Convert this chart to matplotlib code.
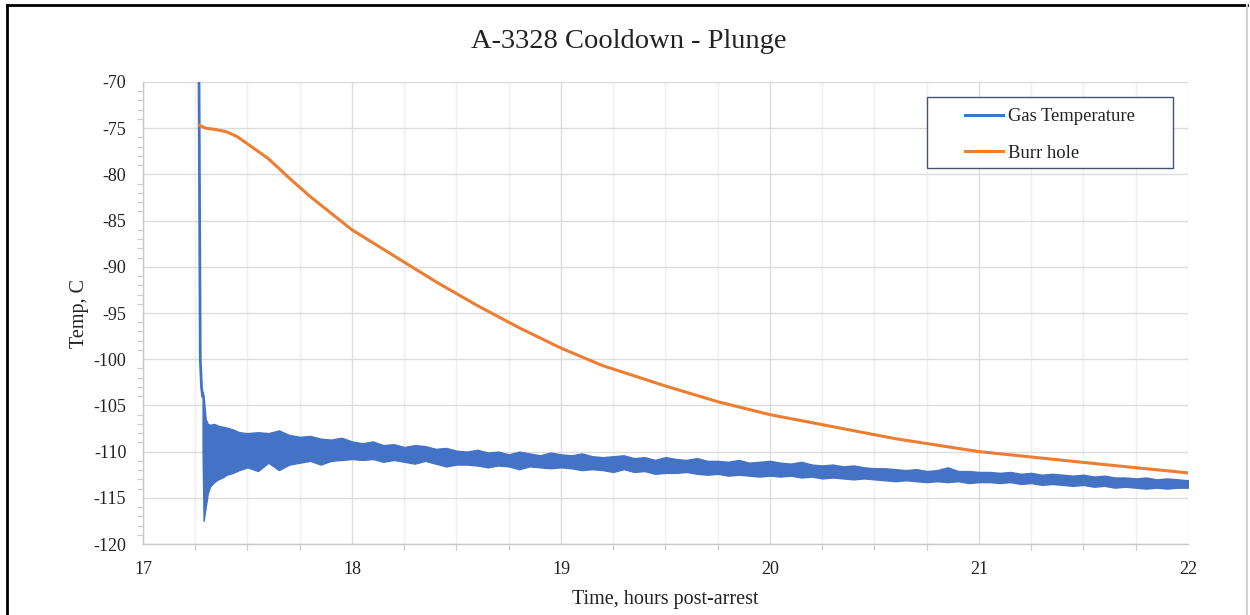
import numpy as np
import matplotlib
matplotlib.use("Agg")
import matplotlib.pyplot as plt
from matplotlib.lines import Line2D
from matplotlib.patches import Rectangle
from matplotlib.ticker import MultipleLocator

plt.rcParams['font.family'] = ['Liberation Serif', 'DejaVu Serif']
plt.rcParams['axes.unicode_minus'] = False

# Burr hole (orange), hours post-arrest vs temp C
burr_t = [17.27, 17.30, 17.35, 17.40, 17.45, 17.50, 17.55, 17.60, 17.70, 17.80,
          17.90, 18.00, 18.20, 18.40, 18.60, 18.80, 19.00, 19.20, 19.50, 19.75,
          20.00, 20.30, 20.60, 20.80, 21.00, 21.30, 21.60, 22.00]
burr_v = [-74.7, -75.0, -75.15, -75.4, -75.9, -76.7, -77.5, -78.3, -80.4, -82.4,
          -84.2, -86.0, -88.8, -91.6, -94.2, -96.6, -98.8, -100.7, -102.9, -104.6,
          -106.0, -107.3, -108.6, -109.3, -110.0, -110.7, -111.4, -112.3]

# gas temperature: plunge spike (single trace)
spike_t = [17.262, 17.268, 17.274, 17.280, 17.285]
spike_v = [-55.0, -70.0, -100.0, -103.0, -104.0]

# gas temperature noise band after the plunge: per-time high / low of the trace
band_t_early = [17.285, 17.29, 17.30, 17.31, 17.32, 17.34, 17.36, 17.38,
                17.40, 17.43, 17.46, 17.50]
band_hi_early = [-103.5, -104.0, -106.5, -107.0, -107.1, -107.0, -107.2, -107.3,
                 -107.4, -107.6, -107.9, -108.0]
band_lo_early = [-110.0, -117.5, -116.0, -114.5, -113.8, -113.3, -113.0, -112.8,
                 -112.5, -112.3, -112.0, -111.7]

# every 0.05 h from 17.55 to 22.00
band_start, band_step = 17.55, 0.05
band_hi = [
    -107.9, -108.0, -107.7, -108.2, -108.4, -108.3, -108.6, -108.7, -108.5, -108.9,
    -109.1, -108.9, -109.3, -109.2, -109.5, -109.3, -109.4, -109.7, -109.6, -109.9,
    -110.0, -109.8, -110.1, -110.0, -110.3, -110.0, -110.2, -110.4, -110.1, -110.3,
    -110.4, -110.2, -110.5, -110.6, -110.5, -110.4, -110.7, -110.6, -110.9, -110.6,
    -110.8, -110.9, -110.7, -111.0, -111.0, -111.1, -110.9, -111.2, -111.1, -111.0,
    -111.2, -111.3, -111.1, -111.4, -111.5, -111.4, -111.6, -111.5, -111.7, -111.8,
    -111.8, -111.9, -112.0, -111.9, -112.1, -112.0, -111.7, -112.1, -112.1, -112.2,
    -112.2, -112.3, -112.2, -112.4, -112.3, -112.5, -112.4, -112.5, -112.6, -112.5,
    -112.7, -112.6, -112.8, -112.8, -112.9, -112.8, -113.0, -112.9, -113.0, -113.1,
]
band_lo = [
    -112.1, -111.2, -112.0, -111.4, -111.2, -111.0, -111.4, -111.0, -110.9, -110.8,
    -110.9, -110.8, -111.1, -110.9, -111.1, -111.3, -111.0, -111.3, -111.6, -111.4,
    -111.4, -111.5, -111.7, -111.5, -111.6, -111.9, -111.6, -111.7, -111.8, -111.7,
    -111.8, -112.0, -111.9, -112.0, -112.2, -111.9, -112.2, -112.1, -112.4, -112.3,
    -112.3, -112.2, -112.4, -112.5, -112.4, -112.6, -112.5, -112.6, -112.7, -112.6,
    -112.7, -112.6, -112.8, -112.7, -112.9, -112.8, -112.9, -113.0, -112.9, -113.0,
    -113.1, -113.2, -113.1, -113.2, -113.3, -113.2, -113.3, -113.2, -113.4, -113.3,
    -113.3, -113.4, -113.3, -113.5, -113.4, -113.6, -113.5, -113.6, -113.7, -113.6,
    -113.8, -113.7, -113.9, -113.8, -113.9, -114.0, -113.9, -114.0, -113.9, -113.9,
]

band_t = band_t_early + list(band_start + band_step * np.arange(len(band_hi)))
hi_all = band_hi_early + band_hi
lo_all = band_lo_early + band_lo

blue = '#4472C4'
orange = '#ED7D31'

fig = plt.figure(figsize=(12.5, 6.15), dpi=100)
ax = fig.add_axes([0.1144, 0.1154, 0.8360, 0.7513])

ax.plot(spike_t, spike_v, color=blue, lw=2.0, label='Gas Temperature')
ax.fill_between(band_t, lo_all, hi_all, color=blue, lw=1.0, edgecolor=blue)
ax.plot(burr_t, burr_v, color=orange, lw=2.2, label='Burr hole')

ax.set_xlim(17, 22)
ax.set_ylim(-120, -70)
ax.xaxis.set_major_locator(MultipleLocator(1))
ax.xaxis.set_minor_locator(MultipleLocator(0.25))
ax.yaxis.set_major_locator(MultipleLocator(5))
ax.yaxis.set_minor_locator(MultipleLocator(1))

ax.grid(which='major', axis='both', color='#dcdcdc', lw=1.0)
ax.grid(which='minor', axis='x', color='#efefef', lw=1.0)
ax.set_axisbelow(True)

for s in ['top', 'right']:
    ax.spines[s].set_visible(False)
for s in ['left', 'bottom']:
    ax.spines[s].set_color('#c8c8c8')
    ax.spines[s].set_linewidth(1.0)

ax.tick_params(which='major', length=0, labelsize=13, colors='#222222')
ax.tick_params(axis='y', which='major', pad=12)
ax.tick_params(axis='x', which='major', pad=12)
ax.tick_params(which='minor', length=4, color='#c8c8c8', width=0.8)

fig.text(0.503, 0.933, 'A-3328 Cooldown - Plunge', fontsize=20.5, ha='center',
         va='center', color='#222222')
ax.set_xlabel('Time, hours post-arrest', fontsize=14.5, labelpad=9, color='#222222')
ax.set_ylabel('Temp, C', fontsize=14.5, labelpad=3, color='#222222')

# legend box drawn as its own frame, entries centred inside it
ax.add_patch(Rectangle((0.750, 0.8139), 0.2356, 0.1536, transform=ax.transAxes,
                       facecolor='white', edgecolor='#44546a', lw=1.0, zorder=4))
leg = ax.legend(loc='center', bbox_to_anchor=(0.868, 0.8853), fontsize=13.4,
                frameon=False, handlelength=2.05, handletextpad=0.3,
                labelspacing=1.07, borderpad=0, borderaxespad=0)
leg.set_zorder(5)
for t in leg.get_texts():
    t.set_color('#222222')
for h in leg.get_lines():
    h.set_linewidth(2.2)

# outer frame
fig.add_artist(Line2D([0.0056, 0.0056], [0.0, 0.992], color='black', lw=2.0,
                      transform=fig.transFigure))
fig.add_artist(Line2D([0.0056, 0.9976], [0.992, 0.992], color='black', lw=2.0,
                      transform=fig.transFigure))
fig.add_artist(Line2D([0.9976, 0.9976], [0.0, 0.992], color='#d0d0d0', lw=1.5,
                      transform=fig.transFigure))

fig.savefig('out.png', dpi=100)
